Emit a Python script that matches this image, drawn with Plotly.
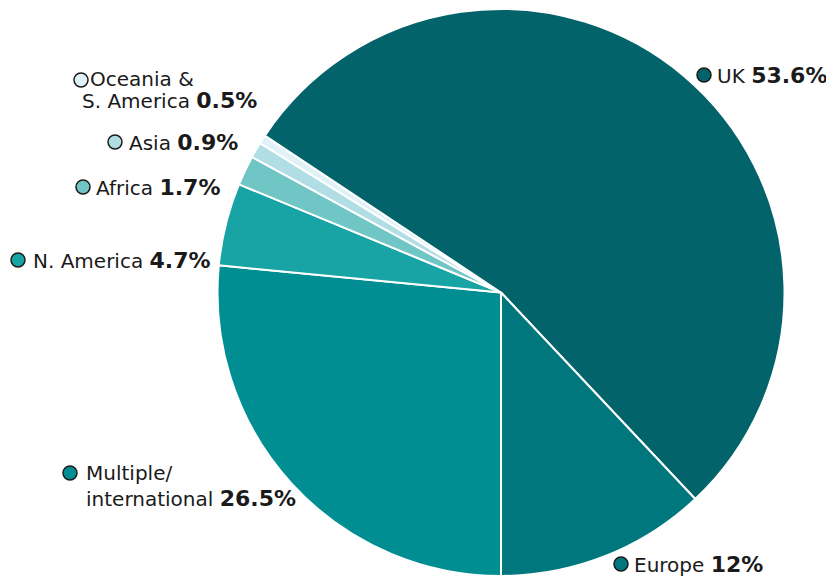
import plotly.graph_objects as go

W, H = 826, 576

categories = ["Multiple/international", "N. America", "Africa", "Asia",
              "Oceania & S. America", "UK", "Europe"]
values = [26.5, 4.7, 1.7, 0.9, 0.5, 53.6, 12]
colors = ["#008e93", "#18a3a5", "#70c6c5", "#b0dee4", "#e0f1f7", "#03636a", "#00777c"]
pct_labels = ["26.5%", "4.7%", "1.7%", "0.9%", "0.5%", "53.6%", "12%"]

fig = go.Figure()
fig.add_trace(go.Pie(
    labels=categories, values=values, sort=False, direction="clockwise",
    rotation=180, textinfo="none", hoverinfo="label+percent",
    marker=dict(colors=colors, line=dict(color="white", width=2)),
    domain=dict(x=[0.2633, 0.9498], y=[0, 0.9844]), showlegend=False,
))

def px(x, y):
    return x / W, 1 - y / H

FONT = "'DejaVu Sans', sans-serif"
TXT = "#1a1a1a"

def big(s):
    return "<b><span style='font-size:22px'>" + s + "</span></b>"

# label layout: (circle x, circle y, [(text x, text y, text)])
label_layout = [
    (70, 473, [(84, 473, "Multiple/"), (84, 498, "international " + big(pct_labels[0]))]),
    (18, 260, [(31, 260, "N. America " + big(pct_labels[1]))]),
    (83, 187, [(94, 187, "Africa " + big(pct_labels[2]))]),
    (115, 142, [(127, 142, "Asia " + big(pct_labels[3]))]),
    (81, 80, [(88, 79, "Oceania &"), (80, 100, "S. America " + big(pct_labels[4]))]),
    (704, 75, [(715, 75, "UK " + big(pct_labels[5]))]),
    (621, 564, [(632, 564, "Europe " + big(pct_labels[6]))]),
]

shapes = []
annotations = []
for i, (cx, cy, texts) in enumerate(label_layout):
    x0, y0 = px(cx - 7, cy - 7)
    x1, y1 = px(cx + 7, cy + 7)
    shapes.append(dict(type="circle", xref="paper", yref="paper",
                       x0=x0, x1=x1, y0=y1, y1=y0,
                       fillcolor=colors[i], line=dict(color="#1a1a1a", width=1.5)))
    for tx, ty, t in texts:
        ax, ay = px(tx, ty)
        annotations.append(dict(x=ax, y=ay, xref="paper", yref="paper",
                                text=t, showarrow=False, xanchor="left", yanchor="middle",
                                font=dict(family=FONT, size=20, color=TXT)))

fig.update_layout(
    width=W, height=H, margin=dict(l=0, r=0, t=0, b=0),
    paper_bgcolor="white", plot_bgcolor="white",
    shapes=shapes, annotations=annotations,
    font=dict(family=FONT, color=TXT),
)

fig.write_html("out.html", config={"displayModeBar": False},
               post_script="document.body.style.margin='0';document.body.style.padding='0';")
